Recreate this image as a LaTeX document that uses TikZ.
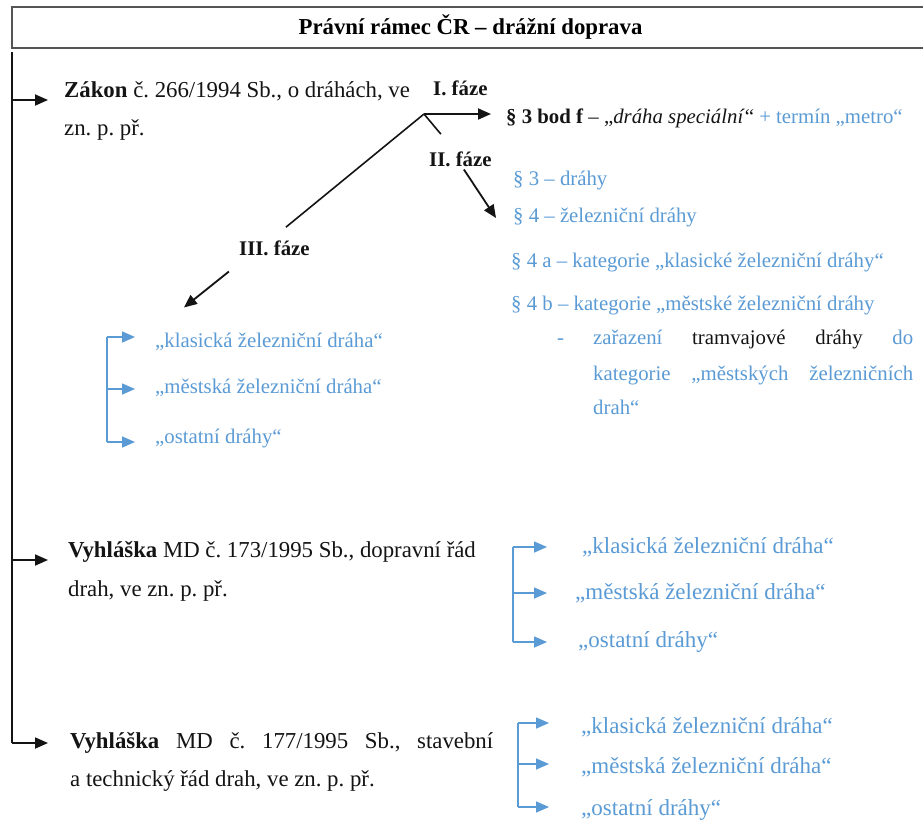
\documentclass[tikz,border=0pt]{standalone}
\usepackage{fontspec}
\setmainfont{Liberation Serif}
\usepackage{tikz}
\usetikzlibrary{arrows.meta, positioning, calc}
\definecolor{myblue}{RGB}{91,155,213}
\definecolor{mydark}{RGB}{20,20,20}
\definecolor{mygrey}{RGB}{85,85,85}
\tikzset{
  bigtxt/.style={anchor=base west, inner sep=0pt, text=mydark,
    font=\fontsize{22.8}{27}\selectfont},
  txt/.style={anchor=base west, inner sep=0pt, text=myblue,
    font=\fontsize{20.8}{25}\selectfont},
  faze/.style={txt, text=mydark, font=\fontsize{20.8}{25}\selectfont\bfseries},
  kattxt/.style={txt, font=\fontsize{23}{27}\selectfont},
  arrow/.style={-{Triangle[length=13pt, width=11pt]}, line width=1.8pt, color=mydark},
  line/.style={line width=1.6pt, color=mydark},
  bluearrow/.style={-{Triangle[length=13pt, width=11pt]}, line width=1.6pt, color=myblue},
  blueline/.style={line width=1.6pt, color=myblue}
}
\frenchspacing

\begin{document}
\begin{tikzpicture}[x=1pt, y=-1pt]
  \useasboundingbox[fill=white] (0,0) rectangle (923,822);

  % title
  \node[draw=mygrey, line width=1.5pt, minimum width=917pt, minimum height=41pt,
    inner sep=0pt, font=\fontsize{22.8}{27}\selectfont\bfseries] (title) at (470.5,27.5)
    {Právní rámec ČR – drážní doprava};

  % laws on the left
  \node[bigtxt] (zakon) at (64,97) {\textbf{Zákon} č. 266/1994 Sb., o dráhách, ve};
  \node[bigtxt] (zakonB) at (64,135) {zn. p. př.};
  \node[bigtxt] (vyh1) at (68,557) {\textbf{Vyhláška} MD č. 173/1995 Sb., dopravní řád};
  \node[bigtxt] (vyh1B) at (68,596) {drah, ve zn. p. př.};
  \node[bigtxt] (vyh2) at (70,748) {\makebox[423pt][s]{\textbf{Vyhláška} MD č. 177/1995 Sb., stavební}};
  \node[bigtxt] (vyh2B) at (70,786) {a technický řád drah, ve zn. p. př.};

  \coordinate (top) at (12,52);
  \coordinate (s1) at (12,100);
  \coordinate (s2) at (12,560);
  \coordinate (s3) at (12,743);
  \draw[line] (top) -- (s3);
  \draw[arrow, shorten >=16pt] (s1) -- (s1 -| zakon.west);
  \draw[arrow, shorten >=20pt] (s2) -- (s2 -| vyh1.west);
  \draw[arrow, shorten >=22pt] (s3) -- (s3 -| vyh2.west);

  % phases
  \node[faze] (faze1) at (433,95) {I. fáze};
  \node[faze] (faze2) at (429,166) {II. fáze};
  \node[faze] (faze3) at (239,255) {III. fáze};

  \node[txt, text=mydark] (par3f) at (506,123)
    {\textbf{§ 3 bod f} – „\textit{dráha speciální}“ \textcolor{myblue}{+ termín „metro“}};
  \node[txt] (par3) at (513,185) {§ 3 – dráhy};
  \node[txt] (par4) at (513,222) {§ 4 – železniční dráhy};
  \node[txt] (par4a) at (511,267) {§ 4 a – kategorie „klasické železniční dráhy“};
  \node[txt] (par4b) at (511,310) {§ 4 b – kategorie „městské železniční dráhy};
  \node[txt] (dashmark) at (557,344) {-};
  \node[txt] (tram1) at (593,344)
    {\makebox[320pt][s]{zařazení \textcolor{mydark}{tramvajové} \textcolor{mydark}{dráhy} do}};
  \node[txt] (tram2) at (593,380) {\makebox[320pt][s]{kategorie „městských železničních}};
  \node[txt] (tram3) at (593,414) {drah“};

  \coordinate (split) at (424,114);
  \draw[arrow, shorten >=15pt] (split) -- (split -| par3f.west);
  \draw[line] (split) -- ($(faze3.north)+(11.5,-13)$);
  \draw[line] (split) -- ($(faze2.north)+(-19.5,-17)$);
  \draw[arrow] ($(faze2.south)+(3.5,3)$) -- ($(par4.west)+(-17,1)$);
  \draw[arrow] ($(faze3.south)+(-45.5,16)$) -- ++(-45,36);

  % categories under III. faze
  \node[txt] (kat1a) at (155,347) {„klasická železniční dráha“};
  \node[txt] (kat1b) at (155,393) {„městská železniční dráha“};
  \node[txt] (kat1c) at (155,443) {„ostatní dráhy“};
  \coordinate (b1) at (107,337);
  \coordinate (b1c) at (107,442);
  \draw[blueline] (b1) -- (b1c);
  \draw[bluearrow, shorten >=20pt] (b1) -- (b1 -| kat1a.west);
  \draw[bluearrow, shorten >=20pt] (b1 |- 0,389) -- (kat1b.west |- 0,389);
  \draw[bluearrow, shorten >=20pt] (b1c) -- (b1c -| kat1c.west);

  % categories for vyhlaska 173
  \node[kattxt] (kat2a) at (582,553) {„klasická železniční dráha“};
  \node[kattxt] (kat2b) at (575,599) {„městská železniční dráha“};
  \node[kattxt] (kat2c) at (578,647) {„ostatní dráhy“};
  \coordinate (b2) at (513,547);
  \coordinate (b2c) at (513,642);
  \draw[blueline] (b2) -- (b2c);
  \draw[bluearrow, shorten >=35pt] (b2) -- (b2 -| kat2a.west);
  \draw[bluearrow, shorten >=28pt] (b2 |- 0,593) -- (kat2b.west |- 0,593);
  \draw[bluearrow, shorten >=31pt] (b2c) -- (b2c -| kat2c.west);

  % categories for vyhlaska 177
  \node[kattxt] (kat3a) at (581,733) {„klasická železniční dráha“};
  \node[kattxt] (kat3b) at (581,773) {„městská železniční dráha“};
  \node[kattxt] (kat3c) at (581,815) {„ostatní dráhy“};
  \coordinate (b3) at (518,723);
  \coordinate (b3c) at (518,807);
  \draw[blueline] (b3) -- (b3c);
  \draw[bluearrow, shorten >=32pt] (b3) -- (b3 -| kat3a.west);
  \draw[bluearrow, shorten >=32pt] (b3 |- 0,764) -- (kat3b.west |- 0,764);
  \draw[bluearrow, shorten >=32pt] (b3c) -- (b3c -| kat3c.west);
\end{tikzpicture}
\end{document}
